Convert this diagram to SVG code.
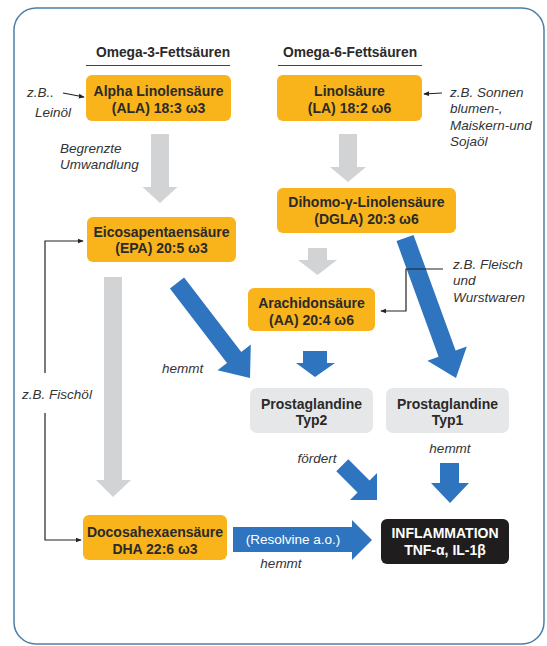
<svg xmlns="http://www.w3.org/2000/svg" width="547" height="646" viewBox="0 0 547 646">
<defs>
<style>
.box{fill:#f9b31b}
.gbox{fill:#e6e7e9}
.dbox{fill:#1f1d1d}
.bt{font-family:"Liberation Sans",Arial,sans-serif;font-weight:bold;font-size:14px;fill:#2a2a2a;text-anchor:middle}
.wt{fill:#ffffff}
.hd{font-family:"Liberation Sans",Arial,sans-serif;font-weight:bold;font-size:13.8px;fill:#2a2a2a;text-anchor:middle}
.an{font-family:"Liberation Sans",Arial,sans-serif;font-style:italic;font-size:13.5px;fill:#333333}
.ga{fill:#d1d3d5}
.ba{fill:#2e74bf}
.ln{fill:none;stroke:#222222;stroke-width:1.2}
</style>
<marker id="ah" viewBox="0 0 8 8" refX="7" refY="4" markerWidth="6" markerHeight="6" markerUnits="userSpaceOnUse" orient="auto">
<path d="M0,0.8 L8,4 L0,7.2 Z" fill="#222222"/>
</marker>
</defs>
<rect x="0" y="0" width="547" height="646" fill="#ffffff"/>
<rect x="14" y="8" width="530" height="636" rx="22" ry="22" fill="none" stroke="#4d7fa6" stroke-width="1.5"/>

<g id="headers">
<text class="hd" x="163" y="57">Omega-3-Fettsäuren</text>
<line x1="86" y1="65.5" x2="230" y2="65.5" stroke="#444" stroke-width="1.2"/>
<text class="hd" x="350" y="57">Omega-6-Fettsäuren</text>
<line x1="278" y1="65.5" x2="422" y2="65.5" stroke="#444" stroke-width="1.2"/>
</g>

<g id="connectors">
<polygon class="ga" points="151,134 169,134 169,187 177.5,187 160,203 142.5,187 151,187"/>
<polygon class="ga" points="339,134 357,134 357,167 366,167 348,182 330,167 339,167"/>
<polygon class="ga" points="308,248 327,248 327,260 337,260 317.5,275 298,260 308,260"/>
<polygon class="ga" points="104,277 122,277 122,480 131,480 113,497 96,480 104,480"/>
<polygon class="ba" points="169.9,288.5 227,362.9 217.5,370.2 250,378 250.8,344.6 241.3,351.9 184.1,277.5"/>
<polygon class="ba" points="396.5,241.1 438.6,356.7 427.4,360.8 456,378 466.8,346.4 455.6,350.5 413.5,234.9"/>
<polygon class="ba" points="303,351 327,351 327,363 335,363 315,377 296,363 303,363"/>
<polygon class="ba" points="336.3,471.3 357.5,492.5 350,500 377,500 377,473 369.5,480.5 348.3,459.3"/>
<polygon class="ba" points="440,463 459,463 459,483 469,483 450,503 431,483 440,483"/>
<polygon class="ba" points="233,527 352,527 352,520 372,540 352,560 352,552 233,552"/>
<line class="ln" x1="63" y1="93" x2="84" y2="97" marker-end="url(#ah)"/>
<line class="ln" x1="442" y1="93" x2="424" y2="94" marker-end="url(#ah)"/>
<polyline class="ln" points="443,269 406,269 406,311 381,311" marker-end="url(#ah)"/>
<polyline class="ln" points="45,373 45,241 83,241" marker-end="url(#ah)"/>
<polyline class="ln" points="45,413 45,540 81,540" marker-end="url(#ah)"/>
</g>

<g id="ala">
<rect class="box" x="86" y="75" width="145" height="46" rx="6"/>
<text class="bt" x="158.5" y="96">Alpha Linolensäure</text>
<text class="bt" x="158.5" y="113">(ALA) 18:3 ω3</text>
</g>
<g id="la">
<rect class="box" x="277" y="75" width="145" height="46" rx="6"/>
<text class="bt" x="349.5" y="96">Linolsäure</text>
<text class="bt" x="349.5" y="113">(LA) 18:2 ω6</text>
</g>
<g id="dgla">
<rect class="box" x="277" y="188" width="179" height="45" rx="6"/>
<text class="bt" x="366.5" y="207">Dihomo-γ-Linolensäure</text>
<text class="bt" x="366.5" y="224">(DGLA) 20:3 ω6</text>
</g>
<g id="epa">
<rect class="box" x="87" y="217" width="149" height="45" rx="6"/>
<text class="bt" x="161.5" y="237">Eicosapentaensäure</text>
<text class="bt" x="161.5" y="253">(EPA) 20:5 ω3</text>
</g>
<g id="aa">
<rect class="box" x="248" y="288" width="127" height="43" rx="6"/>
<text class="bt" x="311.5" y="308">Arachidonsäure</text>
<text class="bt" x="311.5" y="325">(AA) 20:4 ω6</text>
</g>
<g id="pg2">
<rect class="gbox" x="250" y="388" width="123" height="45" rx="7"/>
<text class="bt" x="311.5" y="409">Prostaglandine</text>
<text class="bt" x="311.5" y="425">Typ2</text>
</g>
<g id="pg1">
<rect class="gbox" x="386" y="388" width="123" height="45" rx="7"/>
<text class="bt" x="447.5" y="409">Prostaglandine</text>
<text class="bt" x="447.5" y="425">Typ1</text>
</g>
<g id="dha">
<rect class="box" x="83" y="515" width="144" height="45" rx="6"/>
<text class="bt" x="155" y="537">Docosahexaensäure</text>
<text class="bt" x="155" y="554">DHA 22:6 ω3</text>
</g>
<g id="inflammation">
<rect class="dbox" x="381" y="519" width="128" height="45" rx="6"/>
<text class="bt wt" x="445" y="538">INFLAMMATION</text>
<text class="bt wt" x="445" y="555">TNF-α, IL-1β</text>
</g>

<g id="labels">
<text class="an" x="27" y="97">z.B..</text>
<text class="an" x="35" y="117">Leinöl</text>
<text class="an" x="450" y="97">z.B. Sonnen</text>
<text class="an" x="450" y="113">blumen-,</text>
<text class="an" x="450" y="130">Maiskern-und</text>
<text class="an" x="450" y="146">Sojaöl</text>
<text class="an" x="60" y="153">Begrenzte</text>
<text class="an" x="60" y="169">Umwandlung</text>
<text class="an" x="453" y="269">z.B. Fleisch</text>
<text class="an" x="453" y="285">und</text>
<text class="an" x="453" y="302">Wurstwaren</text>
<text class="an" x="162" y="373">hemmt</text>
<text class="an" x="57" y="399" text-anchor="middle">z.B. Fischöl</text>
<text class="an" x="317" y="463" text-anchor="middle">fördert</text>
<text class="an" x="450" y="453" text-anchor="middle">hemmt</text>
<text class="an" x="281" y="568" text-anchor="middle">hemmt</text>
<text x="293" y="544" text-anchor="middle" font-family="Liberation Sans, Arial, sans-serif" font-size="13.5" fill="#ffffff">(Resolvine a.o.)</text>
</g>
</svg>
